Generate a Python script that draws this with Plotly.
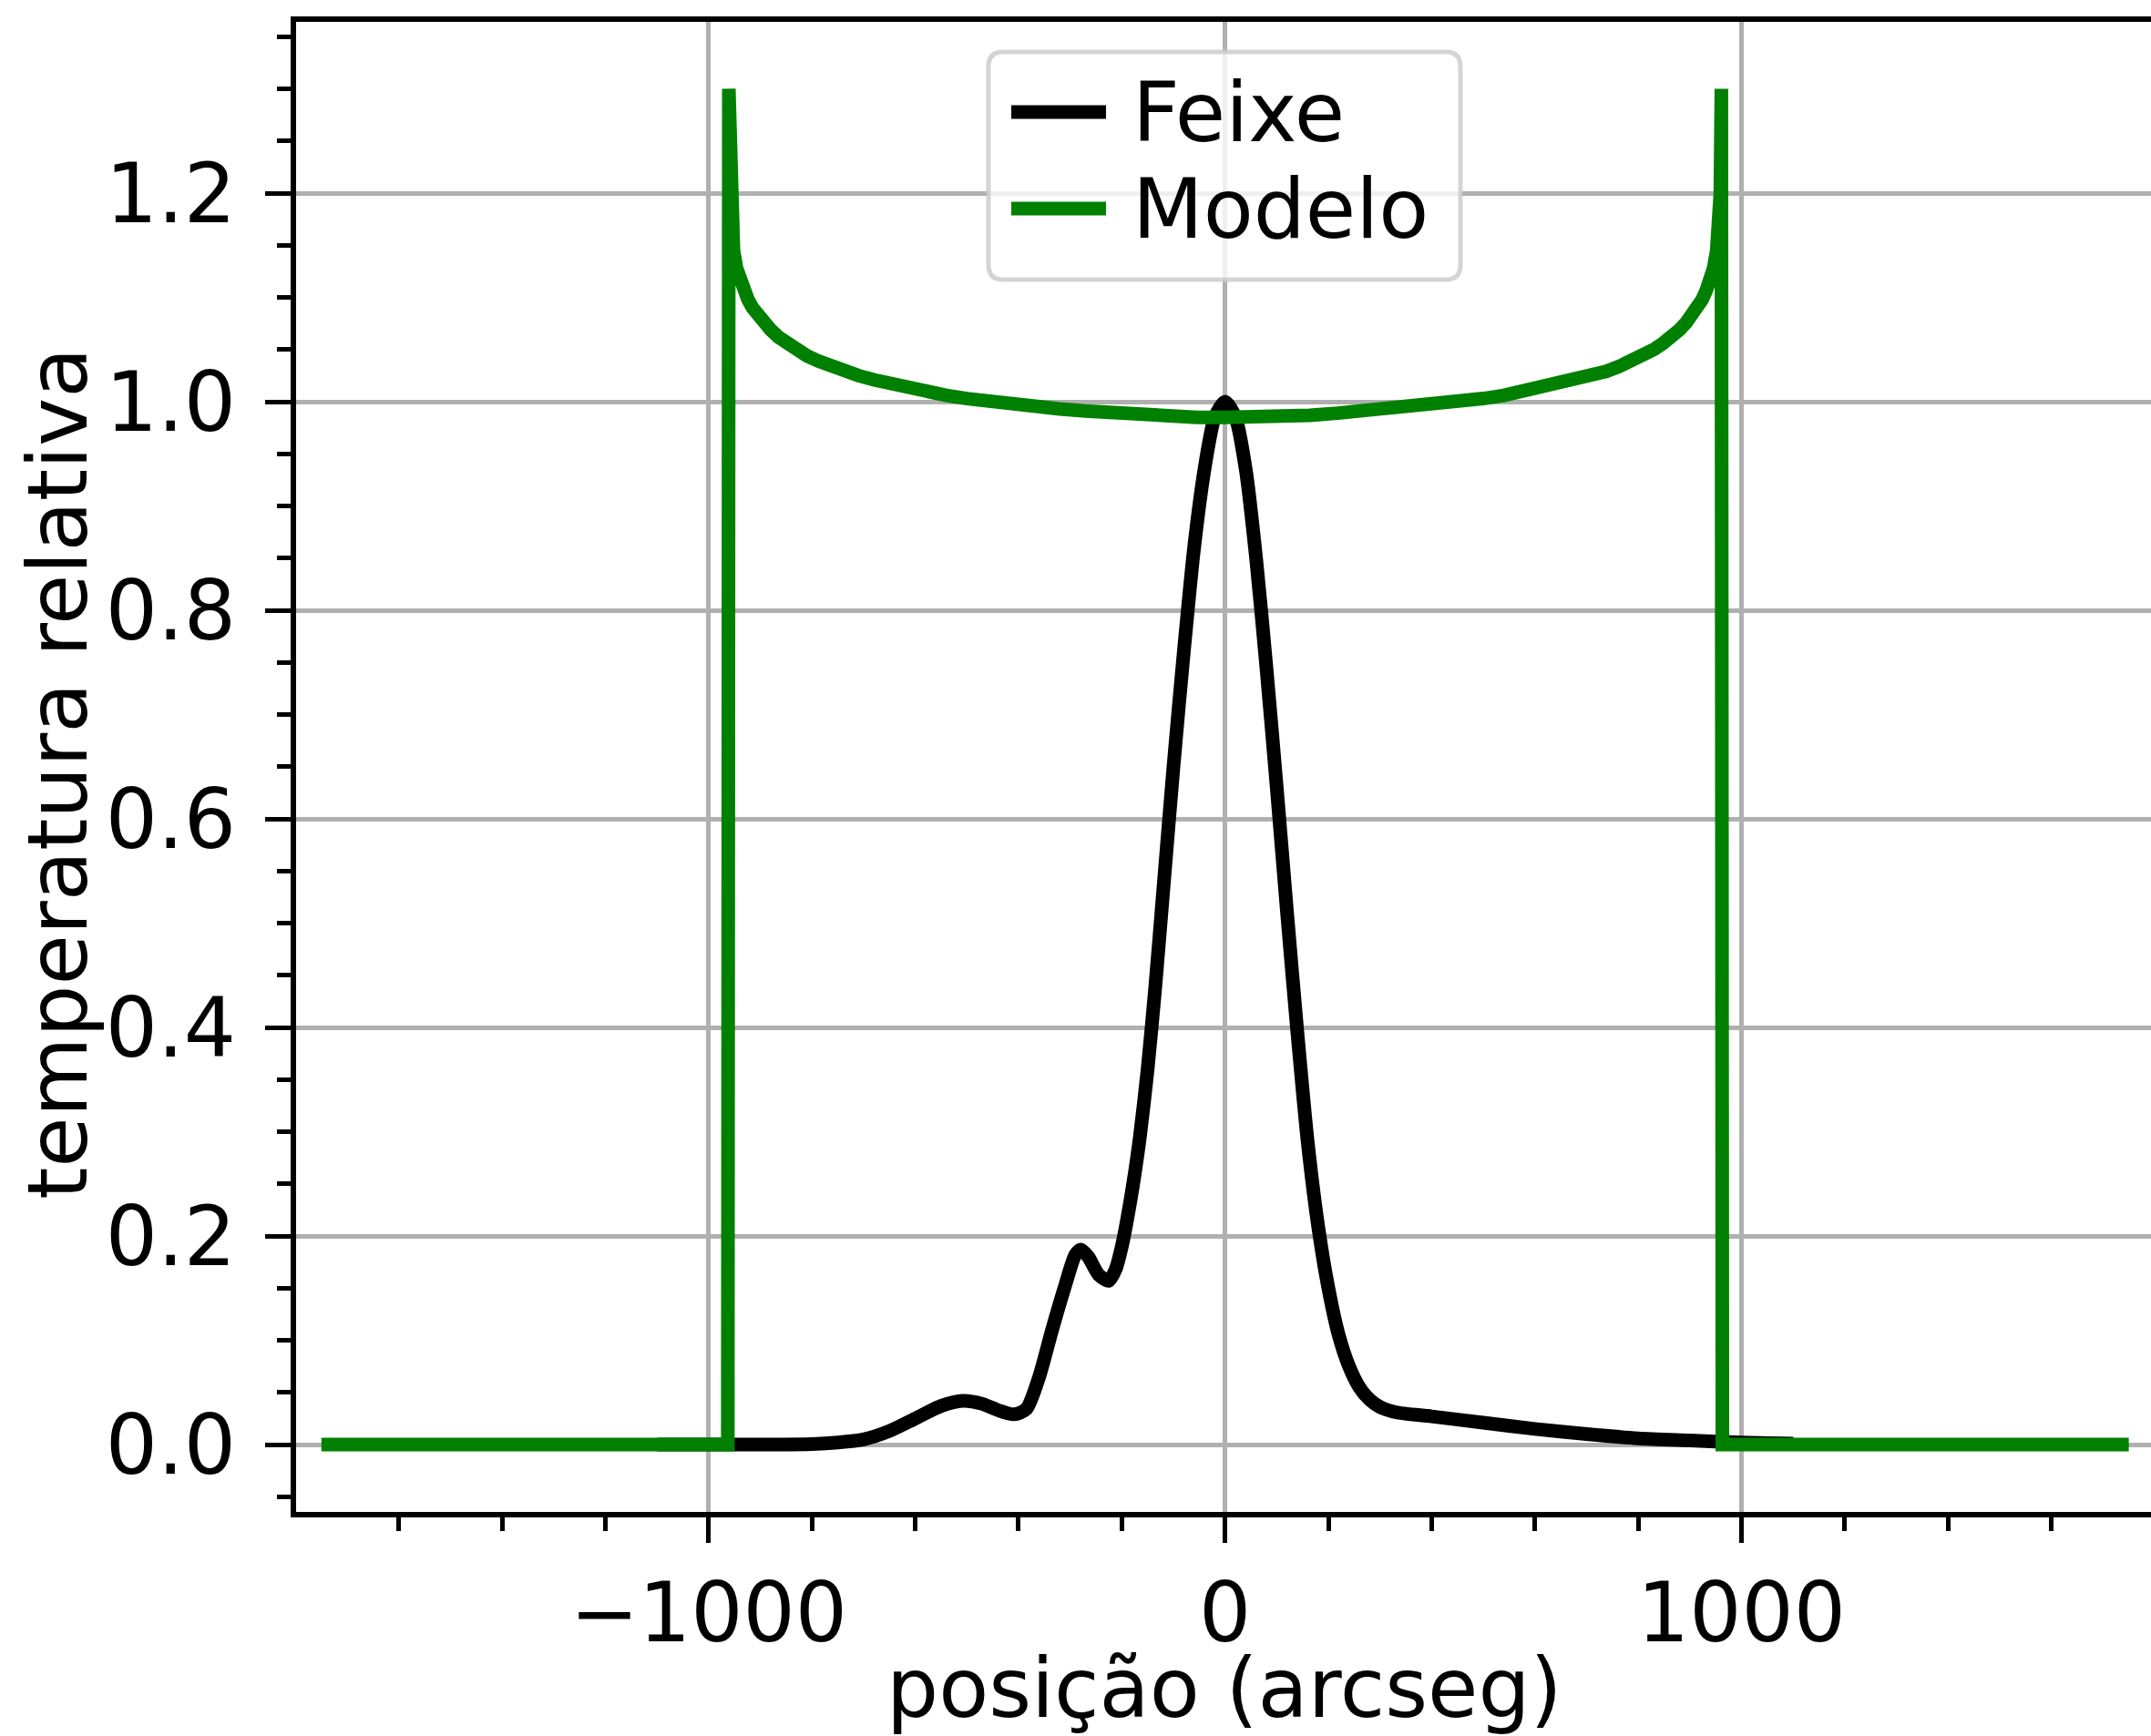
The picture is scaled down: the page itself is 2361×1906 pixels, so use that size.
import plotly.graph_objects as go

# Beam profile (Feixe) and disk model (Modelo): position in arcsec vs relative temperature
feixe_x = [-1100, -1000, -900, -800, -750, -700, -650, -600, -550, -508,
           -470, -440, -409, -385, -360, -335, -310, -290, -279, -265,
           -245, -225, -212, -200, -190, -178, -165, -150, -135, -120,
           -100, -80, -60, -40, -20, 0, 20, 40, 60, 80,
           100, 120, 140, 160, 180, 200, 220, 240, 260, 280,
           300, 330, 400, 500, 600, 700, 800, 900, 1000, 1100]
feixe_y = [0.0, 0.0, 0.0, 0.0005, 0.002, 0.005, 0.013, 0.025, 0.037, 0.042,
           0.039, 0.033, 0.029, 0.034, 0.065, 0.11, 0.152, 0.182, 0.187, 0.18,
           0.163, 0.157, 0.168, 0.19, 0.215, 0.25, 0.295, 0.36, 0.44, 0.53,
           0.65, 0.76, 0.86, 0.935, 0.985, 1.0, 0.985, 0.935, 0.85, 0.745,
           0.63, 0.51, 0.395, 0.29, 0.21, 0.15, 0.105, 0.075, 0.055, 0.043,
           0.036, 0.031, 0.027, 0.021, 0.015, 0.01, 0.006, 0.004, 0.002, 0.001]

modelo_x = [-1750, -963, -961, -959, -956, -952, -946, -940, -932, -924,
            -915, -905, -893, -880, -865, -848, -830, -810, -788, -764,
            -738, -710, -680, -648, -614, -578, -540, -500, -458, -414,
            -368, -320, -270, -218, -164, -110, -55, 0,
            55, 110, 164, 218, 270, 320, 368, 414, 458, 500,
            540, 578, 614, 648, 680, 710, 738, 764, 788, 810,
            830, 848, 865, 880, 893, 905, 915, 924, 932, 940,
            946, 952, 956, 959, 961, 963, 1750]
modelo_y = [0.0, 0.0, 1.3, 1.2, 1.165, 1.145, 1.128, 1.117, 1.107, 1.098,
            1.09, 1.083, 1.076, 1.069, 1.062, 1.056, 1.05, 1.044, 1.039, 1.034,
            1.029, 1.025, 1.021, 1.017, 1.013, 1.01, 1.006, 1.003, 1.0, 0.998,
            0.996, 0.993, 0.991, 0.989, 0.987, 0.986, 0.985, 0.985,
            0.985, 0.986, 0.987, 0.989, 0.991, 0.993, 0.996, 0.998, 1.0, 1.003,
            1.006, 1.01, 1.013, 1.017, 1.021, 1.025, 1.029, 1.034, 1.039, 1.044,
            1.05, 1.056, 1.062, 1.069, 1.076, 1.083, 1.09, 1.098, 1.107, 1.117,
            1.128, 1.145, 1.165, 1.2, 1.3, 0.0, 0.0]

series_names = ["Feixe", "Modelo"]
series_colors = ["black", "green"]
series_data = [(feixe_x, feixe_y), (modelo_x, modelo_y)]
series_shapes = ["spline", "linear"]

x_tick_vals = [-1000, 0, 1000]
x_tick_text = ["\u22121000", "0", "1000"]
y_tick_vals = [0.0, 0.2, 0.4, 0.6, 0.8, 1.0, 1.2]
y_tick_text = ["0.0", "0.2", "0.4", "0.6", "0.8", "1.0", "1.2"]

x_title = "posição (arcseg)"
y_title = "temperatura relativa"

W, H = 2361, 1906
ML, MR, MT, MB = 325, 0, 24, 246
PW, PH = W - ML - MR, H - MT - MB
FONT = "DejaVu Sans"
FS = 90
LW = 15


def px_x(p):
    return (p - ML) / PW


def px_y(p):
    return (H - MB - p) / PH


fig = go.Figure()
for name, color, (xs, ys), shp in zip(series_names, series_colors, series_data, series_shapes):
    fig.add_trace(go.Scatter(
        x=xs, y=ys, mode="lines", name=name,
        line=dict(color=color, width=LW, shape=shp, smoothing=0.7),
        showlegend=False,
    ))

axis_common = dict(
    showline=True, linecolor="black", linewidth=6,
    ticks="outside", ticklen=28, tickwidth=5, tickcolor="black",
    showgrid=True, gridcolor="#b0b0b0", gridwidth=5,
    zeroline=False,
    tickfont=dict(family=FONT, size=FS, color="black"),
)

fig.update_xaxes(
    range=[-1799, 1793], tickmode="array",
    tickvals=x_tick_vals, ticktext=x_tick_text,
    mirror=True, ticklabelstandoff=0,
    minor=dict(dtick=200, tick0=0, ticks="outside", ticklen=15,
               tickwidth=5, tickcolor="black", showgrid=False),
    **axis_common,
)
fig.update_yaxes(
    range=[-0.0646, 1.3642], tickmode="array",
    tickvals=y_tick_vals, ticktext=y_tick_text,
    mirror=False, ticklabelstandoff=14,
    minor=dict(dtick=0.05, tick0=0, ticks="outside", ticklen=15,
               tickwidth=5, tickcolor="black", showgrid=False),
    **axis_common,
)

annotations = [
    dict(text=x_title, xref="paper", yref="paper",
         x=px_x(1344), y=px_y(1853), xanchor="center", yanchor="middle",
         showarrow=False, font=dict(family=FONT, size=FS, color="black")),
    dict(text=y_title, xref="paper", yref="paper", textangle=-90,
         x=px_x(63), y=px_y(850), xanchor="center", yanchor="middle",
         showarrow=False, font=dict(family=FONT, size=FS, color="black")),
]

# legend box drawn as a rounded frame with line samples
bx0, bx1, by0, by1 = 1085, 1603, 57, 307
r = 16
rx, ry = r / PW, r / PH
X0, X1, Y0, Y1 = px_x(bx0), px_x(bx1), px_y(by1), px_y(by0)
path = (f"M {X0 + rx},{Y0} L {X1 - rx},{Y0} Q {X1},{Y0} {X1},{Y0 + ry} "
        f"L {X1},{Y1 - ry} Q {X1},{Y1} {X1 - rx},{Y1} "
        f"L {X0 + rx},{Y1} Q {X0},{Y1} {X0},{Y1 - ry} "
        f"L {X0},{Y0 + ry} Q {X0},{Y0} {X0 + rx},{Y0} Z")
shapes = [dict(type="path", path=path, xref="paper", yref="paper",
               fillcolor="rgba(255,255,255,0.8)",
               line=dict(color="rgba(204,204,204,0.85)", width=5),
               layer="above")]

row_y = [123, 229]
for name, color, yy in zip(series_names, series_colors, row_y):
    shapes.append(dict(type="line", xref="paper", yref="paper",
                       x0=px_x(1110), x1=px_x(1214), y0=px_y(yy), y1=px_y(yy),
                       line=dict(color=color, width=LW), layer="above"))
    annotations.append(dict(text=name, xref="paper", yref="paper",
                            x=px_x(1241), y=px_y(yy), xanchor="left",
                            yanchor="middle", showarrow=False,
                            font=dict(family=FONT, size=FS, color="black")))

fig.update_layout(
    width=W, height=H,
    margin=dict(l=ML, r=MR, t=MT, b=MB, autoexpand=False),
    paper_bgcolor="white", plot_bgcolor="white",
    showlegend=False,
    shapes=shapes, annotations=annotations,
)

fig.write_html("out.html")
